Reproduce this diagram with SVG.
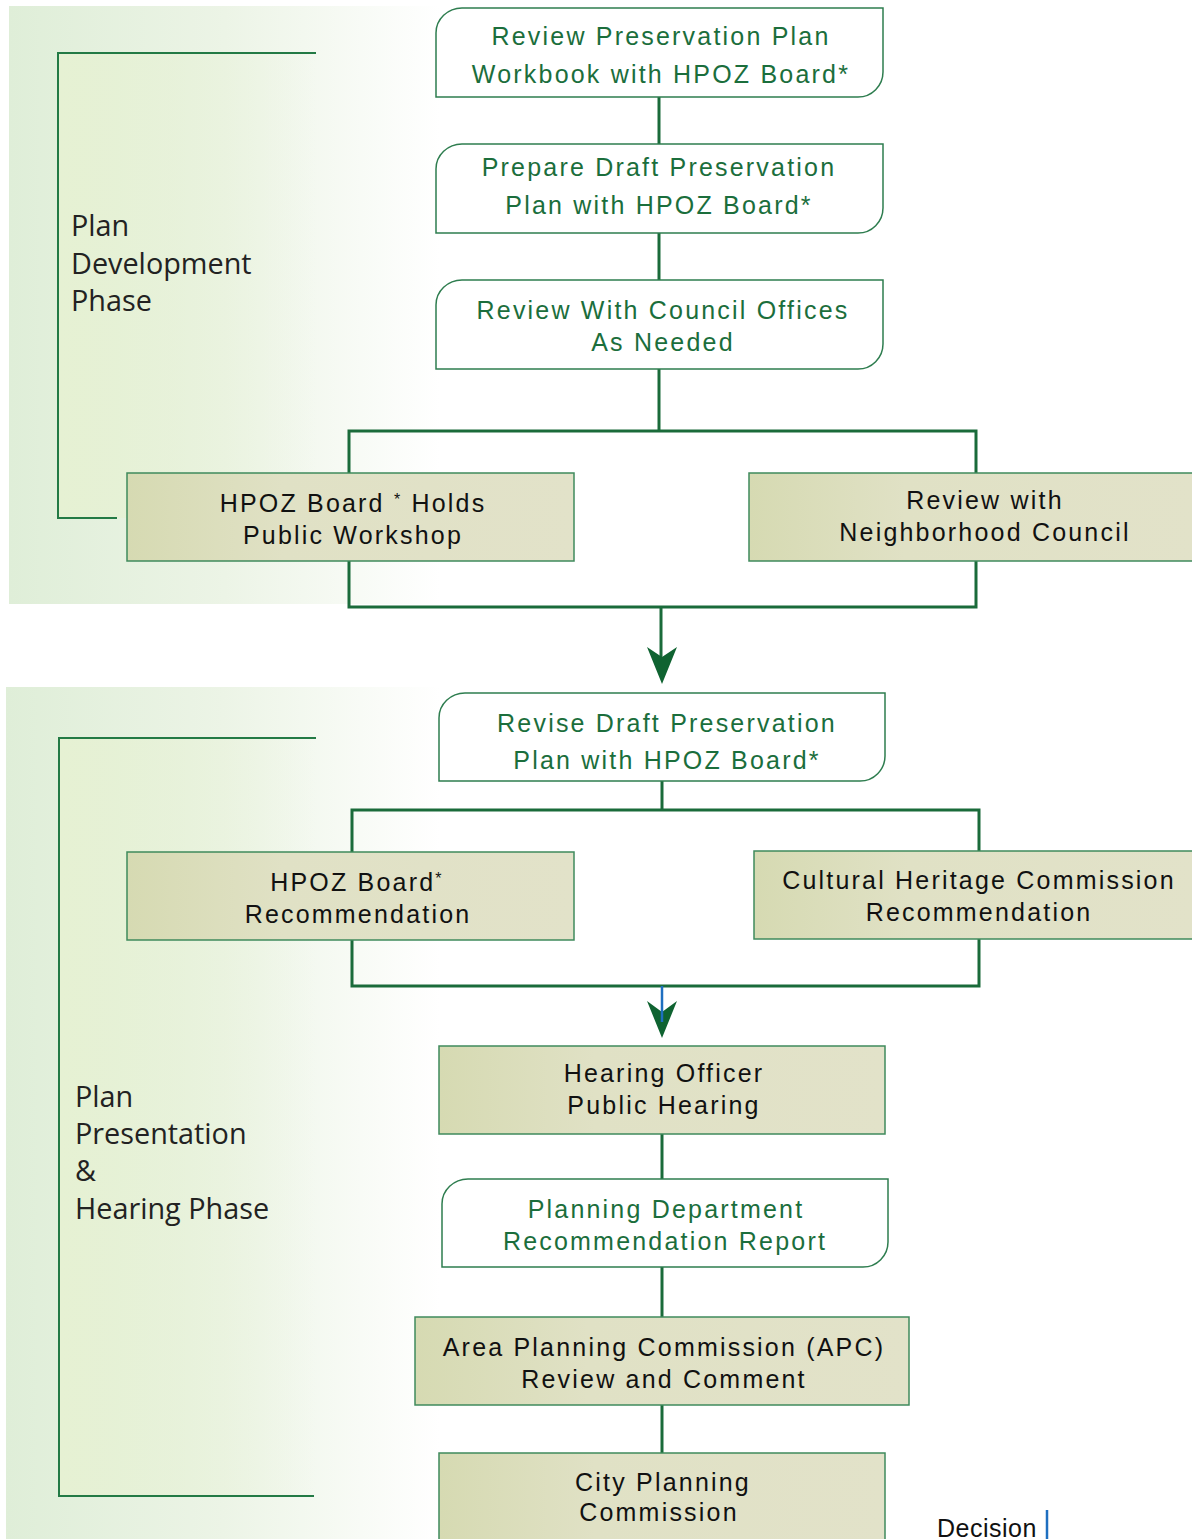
<svg xmlns="http://www.w3.org/2000/svg" width="1192" height="1539" viewBox="0 0 1192 1539">
<defs>
<linearGradient id="panel" x1="0" y1="0" x2="1" y2="0">
<stop offset="0" stop-color="#dfeed8"/>
<stop offset="0.5" stop-color="#ecf4e6"/>
<stop offset="1" stop-color="#ffffff"/>
</linearGradient>
<linearGradient id="inner" x1="0" y1="0" x2="1" y2="0">
<stop offset="0" stop-color="#e6f1d3"/>
<stop offset="1" stop-color="#e6f1d3" stop-opacity="0"/>
</linearGradient>
<linearGradient id="tan" x1="0" y1="0" x2="1" y2="0">
<stop offset="0" stop-color="#d6dab2"/>
<stop offset="0.35" stop-color="#e0e1c5"/>
<stop offset="1" stop-color="#e2e2c9"/>
</linearGradient>
</defs>
<style>
.bg{fill:url(#panel)}
.br{fill:none;stroke:#237a45;stroke-width:2}
.wn{fill:#ffffff;stroke:#2e7d4f;stroke-width:1.5}
.tn{fill:url(#tan);stroke:#3f8a5c;stroke-width:1.5}
.gt{font-family:"Liberation Sans",Arial,sans-serif;font-size:25px;letter-spacing:2.2px;fill:#1b6e3c;text-anchor:middle}
.bt{font-family:"Liberation Sans",Arial,sans-serif;font-size:25px;letter-spacing:2.2px;fill:#111111;text-anchor:middle}
.ph{font-family:"Open Sans","Liberation Sans",sans-serif;font-size:28.8px;fill:#222222}
.ast{font-size:16px}
.cn{fill:none;stroke:#1a6b3a;stroke-width:3}
.ah{fill:#0f6331}
</style>

<g id="panel-plan-development">
<rect class="bg" x="9" y="6" width="431" height="598"/>
<rect x="58" y="53" width="258" height="465" fill="url(#inner)"/>
<path class="br" d="M316,53 H58 V518 H117"/>
<text class="ph" x="71" y="236">Plan</text>
<text class="ph" x="71" y="274">Development</text>
<text class="ph" x="71" y="311">Phase</text>
</g>

<g id="panel-plan-presentation">
<rect class="bg" x="6" y="687" width="434" height="852"/>
<rect x="59" y="738" width="257" height="758" fill="url(#inner)"/>
<path class="br" d="M316,738 H59 V1496 H314"/>
<text class="ph" x="75" y="1107">Plan</text>
<text class="ph" x="75" y="1144">Presentation</text>
<text class="ph" x="75" y="1181">&amp;</text>
<text class="ph" x="75" y="1219">Hearing Phase</text>
</g>

<g id="connectors">
<path class="cn" d="M659,97 V144"/>
<path class="cn" d="M659,233 V280"/>
<path class="cn" d="M659,369 V431"/>
<path class="cn" d="M349,473 V431 H976 V473"/>
<path class="cn" d="M349,561 V607 H976 V561"/>
<path class="cn" d="M661,607 V660"/>
<polygon class="ah" points="647,647 662,657 677,647 662,684"/>
<path class="cn" d="M662,781 V810"/>
<path class="cn" d="M352,852 V810 H979 V851"/>
<path class="cn" d="M352,940 V986 H979 V939"/>
<polygon class="ah" points="647,1001 662,1012 677,1001 662,1038"/>
<path d="M662,986 V1022" fill="none" stroke="#1e6fc0" stroke-width="2.5"/>
<path class="cn" d="M662,1134 V1179"/>
<path class="cn" d="M662,1267 V1317"/>
<path class="cn" d="M662,1405 V1453"/>
</g>

<g id="node-review-workbook">
<path class="wn" d="M462,8 H883 V72 A25,25 0 0 1 858,97 H436 V33 A26,25 0 0 1 462,8 Z"/>
<text class="gt" x="661" y="45">Review Preservation Plan</text>
<text class="gt" x="661" y="83">Workbook with HPOZ Board*</text>
</g>

<g id="node-prepare-draft">
<path class="wn" d="M462,144 H883 V208 A25,25 0 0 1 858,233 H436 V169 A26,25 0 0 1 462,144 Z"/>
<text class="gt" x="659" y="176">Prepare Draft Preservation</text>
<text class="gt" x="659" y="214">Plan with HPOZ Board*</text>
</g>

<g id="node-council-offices">
<path class="wn" d="M462,280 H883 V344 A25,25 0 0 1 858,369 H436 V305 A26,25 0 0 1 462,280 Z"/>
<text class="gt" x="663" y="319">Review With Council Offices</text>
<text class="gt" x="663" y="351">As Needed</text>
</g>

<g id="node-public-workshop">
<rect class="tn" x="127" y="473" width="447" height="88"/>
<text class="bt" x="353" y="512">HPOZ Board <tspan class="ast" dy="-7">*</tspan><tspan dy="7"> Holds</tspan></text>
<text class="bt" x="353" y="544">Public Workshop</text>
</g>

<g id="node-neighborhood-council">
<rect class="tn" x="749" y="473" width="446" height="88"/>
<text class="bt" x="985" y="509">Review with</text>
<text class="bt" x="985" y="541">Neighborhood Council</text>
</g>

<g id="node-revise-draft">
<path class="wn" d="M465,693 H885 V756 A25,25 0 0 1 860,781 H439 V718 A26,25 0 0 1 465,693 Z"/>
<text class="gt" x="667" y="732">Revise Draft Preservation</text>
<text class="gt" x="667" y="769">Plan with HPOZ Board*</text>
</g>

<g id="node-hpoz-recommendation">
<rect class="tn" x="127" y="852" width="447" height="88"/>
<text class="bt" x="357" y="891">HPOZ Board<tspan class="ast" dy="-7">*</tspan></text>
<text class="bt" x="358" y="923">Recommendation</text>
</g>

<g id="node-cultural-heritage">
<rect class="tn" x="754" y="851" width="441" height="88"/>
<text class="bt" x="979" y="889">Cultural Heritage Commission</text>
<text class="bt" x="979" y="921">Recommendation</text>
</g>

<g id="node-hearing-officer">
<rect class="tn" x="439" y="1046" width="446" height="88"/>
<text class="bt" x="664" y="1082">Hearing Officer</text>
<text class="bt" x="664" y="1114">Public Hearing</text>
</g>

<g id="node-planning-department">
<path class="wn" d="M468,1179 H888 V1242 A25,25 0 0 1 863,1267 H442 V1204 A26,25 0 0 1 468,1179 Z"/>
<text class="gt" x="666" y="1218">Planning Department</text>
<text class="gt" x="665" y="1250">Recommendation Report</text>
</g>

<g id="node-apc">
<rect class="tn" x="415" y="1317" width="494" height="88"/>
<text class="bt" x="664" y="1356">Area Planning Commission (APC)</text>
<text class="bt" x="664" y="1388">Review and Comment</text>
</g>

<g id="node-city-planning">
<rect class="tn" x="439" y="1453" width="446" height="92"/>
<text class="bt" x="663" y="1491">City Planning</text>
<text class="bt" x="659" y="1521">Commission</text>
</g>

<g id="decision-label">
<text x="937" y="1537" font-family="Liberation Sans,Arial,sans-serif" font-size="25" letter-spacing="0.5" fill="#111111">Decision</text>
<path d="M1047,1510 V1539" stroke="#1e6fc0" stroke-width="2.5"/>
</g>
</svg>
